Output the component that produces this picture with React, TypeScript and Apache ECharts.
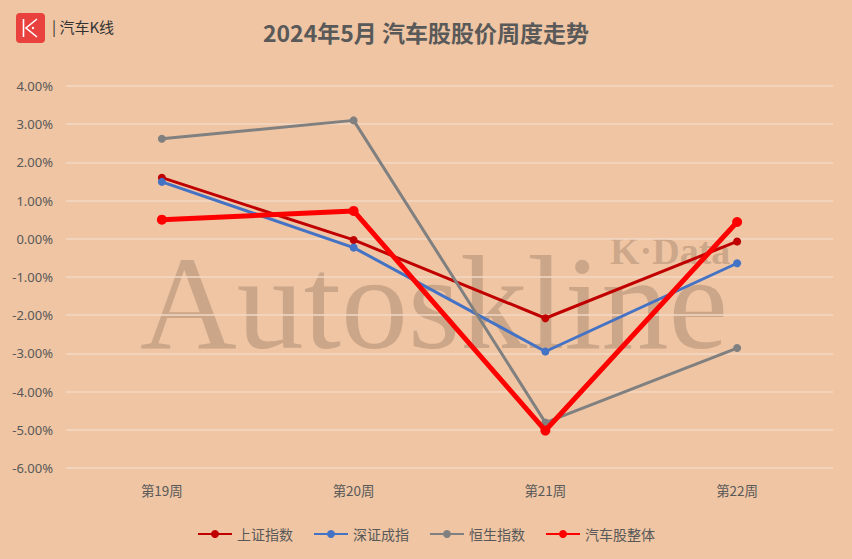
import React, { useEffect, useRef } from "react";
import * as echarts from "echarts";

const categories = ["第19周", "第20周", "第21周", "第22周"];
const shangzheng = [1.6, -0.03, -2.08, -0.07];
const shenzheng = [1.49, -0.23, -2.95, -0.64];
const hengsheng = [2.62, 3.1, -4.81, -2.86];
const autoStocks = [0.5, 0.73, -5.02, 0.44];
const seriesNames = ["上证指数", "深证成指", "恒生指数", "汽车股整体"];

export default function App() {
  const ref = useRef<HTMLDivElement>(null);
  useEffect(() => {
    const chart = echarts.init(ref.current!, null, { renderer: "svg" });
    const mk = (name: string, data: number[], color: string, width: number, sym: number, z: number) => ({
      name,
      type: "line",
      data,
      symbol: "circle",
      symbolSize: sym,
      z,
      lineStyle: { color, width },
      itemStyle: { color },
    });
    chart.setOption({
      animation: false,
      backgroundColor: "#EFC5A3",
      title: {
        text: "2024年5月 汽车股股价周度走势",
        left: "center",
        top: 15,
        textStyle: { color: "#595959", fontSize: 23, fontWeight: "bold", fontFamily: "Noto Sans CJK SC" },
      },
      graphic: [
        {
          type: "text",
          left: 140,
          top: 236,
          z: 0,
          silent: true,
          style: {
            text: "Autoskline",
            font: "134px 'Liberation Serif'",
            fill: "rgba(140,112,92,0.36)",
          },
        },
        {
          type: "text",
          left: 610,
          top: 232,
          z: 0,
          silent: true,
          style: {
            text: "K·Data",
            font: "bold 38px 'Liberation Serif'",
            fill: "rgba(140,112,92,0.36)",
          },
        },
        {
          type: "rect",
          shape: { x: 16, y: 13, width: 29, height: 30, r: 4 },
          style: { fill: "#E8413E" },
        },
        {
          type: "line",
          shape: { x1: 23.5, y1: 19, x2: 23.5, y2: 37 },
          style: { stroke: "#ffffff", lineWidth: 1.6 },
        },
        {
          type: "polyline",
          shape: { points: [[37, 19], [26, 28], [37, 37]] },
          style: { stroke: "#ffffff", lineWidth: 1.6, fill: "none" },
        },
        {
          type: "circle",
          shape: { cx: 33, cy: 28, r: 1.2 },
          style: { fill: "#ffffff" },
        },
        {
          type: "text",
          left: 52,
          top: 19,
          style: {
            text: "| 汽车K线",
            font: "15px 'Noto Sans CJK SC'",
            fill: "#333333",
          },
        },
      ],
      legend: {
        bottom: 13,
        left: "center",
        itemGap: 20,
        itemWidth: 34,
        itemHeight: 10,
        data: seriesNames,
        textStyle: { color: "#595959", fontSize: 14, fontFamily: "Noto Sans CJK SC" },
      },
      grid: { left: 66, right: 19, top: 86, bottom: 91 },
      xAxis: {
        type: "category",
        data: categories,
        boundaryGap: true,
        axisLine: { show: false },
        axisTick: { show: false },
        axisLabel: { color: "#595959", fontSize: 13.5, margin: 15, fontFamily: "Noto Sans CJK SC" },
      },
      yAxis: {
        type: "value",
        min: -6,
        max: 4,
        interval: 1,
        axisLine: { show: false },
        axisTick: { show: false },
        splitLine: { lineStyle: { color: "#F3D9C6", width: 1.5 } },
        axisLabel: {
          color: "#595959",
          fontSize: 13,
          margin: 13,
          fontFamily: "Noto Sans",
          formatter: (v: number) => v.toFixed(2) + "%",
        },
      },
      series: [
        mk(seriesNames[0], shangzheng, "#C00000", 3, 8, 3),
        mk(seriesNames[1], shenzheng, "#4472C4", 3, 8, 3),
        mk(seriesNames[2], hengsheng, "#808080", 3, 8, 3),
        mk(seriesNames[3], autoStocks, "#FF0000", 5, 10, 4),
      ],
    });
    return () => chart.dispose();
  }, []);
  return <div ref={ref} style={{ width: 852, height: 559, position: "absolute", left: 0, top: 0 }} />;
}
